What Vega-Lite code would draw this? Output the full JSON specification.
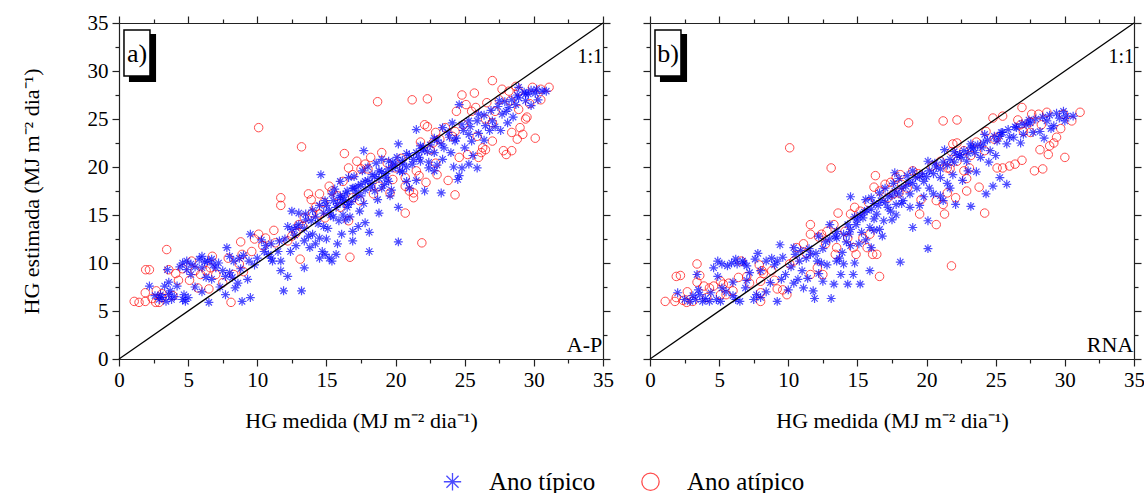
{
"$schema":"https://vega.github.io/schema/vega-lite/v6.json",
"padding":{"left":20,"top":12,"right":5,"bottom":0},
"config":{"font":"Liberation Serif, Times New Roman, serif","view":{"stroke":null},
"axis":{"domainColor":"#222","tickColor":"#222","labelColor":"black","titleColor":"black","labelFont":"Liberation Serif, Times New Roman, serif","titleFont":"Liberation Serif, Times New Roman, serif","labelFontSize":21,"titleFontSize":22,"titleFontWeight":"normal","grid":false,"domainWidth":1.2,"tickWidth":1.2,"labelFlush":false,"labelOverlap":false},
"legend":{"labelFont":"Liberation Serif, Times New Roman, serif","labelFontSize":25,"labelColor":"black"},
"text":{"font":"Liberation Serif, Times New Roman, serif"}},
"datasets":{
"one":[{}],
"aT":[{"x":2.2,"y":7.6},{"x":2.9,"y":6.2},{"x":3.1,"y":6.4},{"x":3.4,"y":6.0},{"x":3.0,"y":6.7},{"x":3.5,"y":9.3},{"x":3.6,"y":8.0},{"x":3.7,"y":7.1},{"x":3.6,"y":6.7},{"x":4.6,"y":10.0},{"x":4.9,"y":10.2},{"x":5.2,"y":9.9},{"x":4.9,"y":9.3},{"x":4.6,"y":6.2},{"x":4.8,"y":6.0},{"x":4.7,"y":6.7},{"x":5.0,"y":6.4},{"x":6.0,"y":10.7},{"x":6.4,"y":10.2},{"x":6.7,"y":10.4},{"x":7.2,"y":10.0},{"x":7.0,"y":9.5},{"x":6.3,"y":8.5},{"x":6.7,"y":8.3},{"x":6.5,"y":5.9},{"x":7.8,"y":11.6},{"x":8.0,"y":10.7},{"x":8.3,"y":10.2},{"x":8.7,"y":10.5},{"x":7.7,"y":6.7},{"x":8.4,"y":7.4},{"x":8.6,"y":7.9},{"x":8.9,"y":6.0},{"x":9.5,"y":6.4},{"x":9.5,"y":13.0},{"x":9.3,"y":8.3},{"x":10.6,"y":11.8},{"x":11.0,"y":10.5},{"x":11.1,"y":10.2},{"x":11.6,"y":12.3},{"x":11.7,"y":10.2},{"x":11.7,"y":9.2},{"x":12.2,"y":8.6},{"x":11.9,"y":7.1},{"x":13.2,"y":7.1},{"x":12.5,"y":15.4},{"x":12.8,"y":13.7},{"x":13.0,"y":15.2},{"x":13.4,"y":12.3},{"x":13.5,"y":15.1},{"x":13.9,"y":14.4},{"x":14.0,"y":13.0},{"x":13.4,"y":9.5},{"x":14.5,"y":12.6},{"x":14.7,"y":11.2},{"x":14.9,"y":10.9},{"x":15.2,"y":10.5},{"x":15.4,"y":10.2},{"x":15.7,"y":10.9},{"x":14.5,"y":10.5},{"x":14.6,"y":19.2},{"x":14.9,"y":16.5},{"x":15.4,"y":17.2},{"x":15.7,"y":15.8},{"x":16.0,"y":16.8},{"x":16.4,"y":17.2},{"x":16.6,"y":16.1},{"x":16.9,"y":17.8},{"x":17.1,"y":16.8},{"x":17.4,"y":15.4},{"x":15.9,"y":14.4},{"x":16.1,"y":13.0},{"x":16.9,"y":13.3},{"x":16.9,"y":12.3},{"x":17.8,"y":14.2},{"x":17.7,"y":21.7},{"x":18.1,"y":13.2},{"x":18.1,"y":11.2},{"x":17.8,"y":18.5},{"x":18.3,"y":19.2},{"x":18.8,"y":19.6},{"x":19.0,"y":17.8},{"x":19.3,"y":18.9},{"x":19.5,"y":20.6},{"x":19.8,"y":19.9},{"x":20.1,"y":21.0},{"x":20.5,"y":20.3},{"x":20.2,"y":22.4},{"x":18.8,"y":15.2},{"x":20.2,"y":15.8},{"x":20.2,"y":12.2},{"x":21.0,"y":17.8},{"x":21.2,"y":20.3},{"x":21.5,"y":23.9},{"x":21.7,"y":21.0},{"x":21.9,"y":21.7},{"x":22.4,"y":19.9},{"x":22.8,"y":19.6},{"x":22.1,"y":17.5},{"x":23.3,"y":17.3},{"x":23.4,"y":24.1},{"x":23.9,"y":23.1},{"x":24.1,"y":24.6},{"x":24.3,"y":22.7},{"x":24.8,"y":24.4},{"x":25.3,"y":23.4},{"x":25.5,"y":22.7},{"x":24.5,"y":18.7},{"x":24.6,"y":19.1},{"x":24.8,"y":19.9},{"x":25.3,"y":20.3},{"x":25.9,"y":19.9},{"x":24.6,"y":26.5},{"x":25.3,"y":24.8},{"x":26.0,"y":25.5},{"x":26.5,"y":24.3},{"x":27.0,"y":24.8},{"x":27.5,"y":26.9},{"x":28.0,"y":25.8},{"x":28.2,"y":26.2},{"x":28.7,"y":26.5},{"x":28.9,"y":27.2},{"x":29.4,"y":26.9},{"x":29.6,"y":27.6},{"x":30.1,"y":27.7},{"x":30.6,"y":27.9},{"x":30.9,"y":27.9},{"x":28.1,"y":24.6},{"x":27.7,"y":25.5},{"x":28.9,"y":28.3},{"x":29.4,"y":27.6},{"x":15,"y":16},{"x":15.5,"y":16.5},{"x":16,"y":17},{"x":16.5,"y":17.5},{"x":17,"y":17.8},{"x":17.5,"y":18.2},{"x":18,"y":18.6},{"x":18.5,"y":19},{"x":19,"y":19.5},{"x":19.5,"y":19.8},{"x":20,"y":20.2},{"x":20.5,"y":20.7},{"x":21,"y":21.2},{"x":21.5,"y":21.5},{"x":22,"y":22},{"x":22.5,"y":22.3},{"x":23,"y":22.8},{"x":14,"y":15.5},{"x":14.5,"y":16},{"x":13.5,"y":14.5},{"x":13,"y":14},{"x":12.5,"y":13.5},{"x":16,"y":18.5},{"x":17,"y":19},{"x":18,"y":20},{"x":19,"y":20.8},{"x":17.5,"y":17},{"x":18.5,"y":17.5},{"x":19.5,"y":18.5},{"x":20.5,"y":19.5},{"x":16.5,"y":15.8},{"x":15.5,"y":14.8},{"x":15.2,"y":15.5},{"x":16.2,"y":16.3},{"x":17.2,"y":17.3},{"x":18.2,"y":17.9},{"x":19.2,"y":18.2},{"x":20.8,"y":20.0},{"x":21.8,"y":20.6},{"x":22.8,"y":21.5},{"x":23.5,"y":22.0},{"x":24.0,"y":21.5},{"x":25.0,"y":22.0},{"x":26.0,"y":23.5},{"x":26.8,"y":23.8},{"x":27.2,"y":24.2},{"x":28.5,"y":25.2},{"x":29.8,"y":26.4},{"x":30.3,"y":27.0},{"x":12.0,"y":12.5},{"x":11.0,"y":12.0},{"x":10.5,"y":11.2},{"x":10.0,"y":10.5},{"x":9.0,"y":10.8},{"x":9.8,"y":9.8},{"x":8.0,"y":9.0},{"x":7.5,"y":9.2},{"x":6.0,"y":9.5},{"x":5.5,"y":9.6},{"x":4.2,"y":7.6},{"x":4.0,"y":6.5},{"x":5.5,"y":7.5},{"x":6.0,"y":7.0},{"x":7.3,"y":7.5},{"x":8.2,"y":8.5},{"x":12.8,"y":11.8},{"x":13.8,"y":11.6},{"x":14.2,"y":12.0},{"x":15.0,"y":12.5},{"x":15.8,"y":12.0},{"x":14.8,"y":13.8},{"x":16.4,"y":14.5},{"x":17.3,"y":13.8},{"x":19.6,"y":17.0},{"x":20.8,"y":18.5},{"x":22.4,"y":20.5},{"x":23.4,"y":20.8},{"x":24.2,"y":20.0},{"x":25.6,"y":21.2},{"x":26.4,"y":22.8},{"x":27.6,"y":23.8},{"x":14.2,"y":14.8},{"x":14.8,"y":15.2},{"x":15.3,"y":15.0},{"x":15.8,"y":16.2},{"x":16.3,"y":16.6},{"x":16.8,"y":16.4},{"x":17.3,"y":18.0},{"x":17.8,"y":17.6},{"x":18.3,"y":18.3},{"x":18.8,"y":18.8},{"x":19.3,"y":19.3},{"x":19.8,"y":20.5},{"x":20.3,"y":19.6},{"x":20.8,"y":21.4},{"x":21.3,"y":20.8},{"x":21.8,"y":22.2},{"x":22.3,"y":21.6},{"x":22.8,"y":23.0},{"x":23.3,"y":22.4},{"x":23.8,"y":23.6},{"x":24.4,"y":23.0},{"x":24.9,"y":23.8},{"x":25.4,"y":24.2},{"x":25.9,"y":24.8},{"x":26.4,"y":25.4},{"x":26.9,"y":25.9},{"x":27.4,"y":26.3},{"x":27.9,"y":26.8},{"x":28.4,"y":27.0},{"x":28.8,"y":27.5},{"x":29.3,"y":27.8},{"x":29.8,"y":28.0},{"x":30.2,"y":28.1},{"x":15.6,"y":17.7},{"x":16.6,"y":18.9},{"x":17.6,"y":19.6},{"x":18.6,"y":20.4},{"x":13.4,"y":13.6},{"x":12.7,"y":12.9},{"x":12.2,"y":13.8},{"x":11.5,"y":11.2},{"x":10.8,"y":10.9},{"x":10.3,"y":12.4},{"x":9.4,"y":10.2},{"x":8.8,"y":9.4},{"x":7.7,"y":8.6},{"x":6.8,"y":9.8},{"x":6.2,"y":10.1},{"x":5.8,"y":10.4},{"x":5.2,"y":8.8},{"x":4.4,"y":9.6},{"x":3.8,"y":6.2},{"x":3.3,"y":7.6},{"x":2.6,"y":6.6},{"x":16.2,"y":15.0},{"x":17.7,"y":16.2},{"x":18.7,"y":16.6},{"x":19.7,"y":17.6},{"x":21.5,"y":18.6},{"x":23.0,"y":20.2},{"x":14.4,"y":14.1},{"x":15.1,"y":13.6},{"x":16.7,"y":14.8},{"x":13.7,"y":12.8},{"x":12.4,"y":11.2}],
"aA":[{"x":1.1,"y":6.0},{"x":1.45,"y":5.9},{"x":1.9,"y":6.0},{"x":1.93,"y":9.3},{"x":2.2,"y":9.3},{"x":3.45,"y":11.4},{"x":3.6,"y":9.3},{"x":2.4,"y":6.3},{"x":2.65,"y":5.9},{"x":2.9,"y":5.9},{"x":3.1,"y":6.4},{"x":1.9,"y":6.9},{"x":3.1,"y":6.8},{"x":4.3,"y":8.2},{"x":5.1,"y":8.2},{"x":5.25,"y":10.2},{"x":5.5,"y":9.2},{"x":5.9,"y":8.8},{"x":6.3,"y":9.2},{"x":6.6,"y":9.5},{"x":5.7,"y":7.4},{"x":6.5,"y":7.3},{"x":6.75,"y":10.7},{"x":7.5,"y":7.95},{"x":8.1,"y":5.9},{"x":8.3,"y":8.8},{"x":8.7,"y":9.9},{"x":8.9,"y":10.9},{"x":8.8,"y":12.2},{"x":9.8,"y":12.5},{"x":10.1,"y":13.0},{"x":10.1,"y":24.1},{"x":9.6,"y":11.2},{"x":10.4,"y":11.8},{"x":11.2,"y":13.4},{"x":11.7,"y":16.8},{"x":11.7,"y":16.0},{"x":13.2,"y":22.1},{"x":13.1,"y":10.4},{"x":12.5,"y":12.8},{"x":13.0,"y":14.0},{"x":13.4,"y":14.7},{"x":13.7,"y":17.2},{"x":13.9,"y":16.6},{"x":14.2,"y":15.8},{"x":14.5,"y":17.2},{"x":14.0,"y":15.2},{"x":14.5,"y":15.1},{"x":14.9,"y":14.7},{"x":15.2,"y":18.0},{"x":15.4,"y":17.5},{"x":16.3,"y":21.4},{"x":16.7,"y":10.6},{"x":16.6,"y":19.9},{"x":16.9,"y":19.2},{"x":17.2,"y":20.6},{"x":17.5,"y":19.8},{"x":18.0,"y":19.8},{"x":16.9,"y":16.8},{"x":17.4,"y":16.5},{"x":16.0,"y":15.8},{"x":16.6,"y":14.4},{"x":18.7,"y":26.8},{"x":19.0,"y":21.5},{"x":18.4,"y":17.2},{"x":18.8,"y":18.0},{"x":20.7,"y":15.2},{"x":21.2,"y":27.0},{"x":22.3,"y":27.1},{"x":21.9,"y":12.1},{"x":22.1,"y":24.4},{"x":22.3,"y":24.2},{"x":21.5,"y":19.6},{"x":21.7,"y":19.1},{"x":21.3,"y":17.3},{"x":21.3,"y":16.8},{"x":22.2,"y":18.4},{"x":23.0,"y":19.2},{"x":20.7,"y":18.9},{"x":20.0,"y":19.9},{"x":19.8,"y":18.7},{"x":24.3,"y":17.1},{"x":24.8,"y":27.5},{"x":25.7,"y":27.7},{"x":24.4,"y":25.8},{"x":25.1,"y":26.5},{"x":25.5,"y":25.8},{"x":25.8,"y":26.2},{"x":24.6,"y":21.0},{"x":25.2,"y":21.3},{"x":26.0,"y":21.0},{"x":26.2,"y":21.5},{"x":26.5,"y":21.8},{"x":27.0,"y":22.7},{"x":24.1,"y":23.2},{"x":24.3,"y":23.7},{"x":27.0,"y":29.0},{"x":27.7,"y":28.1},{"x":28.2,"y":27.9},{"x":28.7,"y":28.4},{"x":28.9,"y":27.9},{"x":29.9,"y":28.3},{"x":30.5,"y":28.1},{"x":31.1,"y":28.3},{"x":27.8,"y":21.7},{"x":28.0,"y":21.3},{"x":28.4,"y":21.7},{"x":28.4,"y":23.6},{"x":28.8,"y":22.9},{"x":29.0,"y":24.1},{"x":29.2,"y":23.4},{"x":29.4,"y":25.0},{"x":29.5,"y":25.2},{"x":28.9,"y":26.0},{"x":30.1,"y":23.0},{"x":30.5,"y":27.0},{"x":26.5,"y":25.0},{"x":27.0,"y":24.6},{"x":27.2,"y":25.8},{"x":25.9,"y":23.2},{"x":26.3,"y":22.0},{"x":22.9,"y":23.6},{"x":22.7,"y":22.5},{"x":22.5,"y":21.8},{"x":20.7,"y":18.0},{"x":21.0,"y":17.5},{"x":12.2,"y":12.3},{"x":12.8,"y":13.1},{"x":13.3,"y":13.8},{"x":14.8,"y":16.3},{"x":15.8,"y":17.0},{"x":16.2,"y":18.5},{"x":17.8,"y":20.3},{"x":18.2,"y":21.0},{"x":19.4,"y":20.4},{"x":20.4,"y":20.9},{"x":21.8,"y":22.6},{"x":23.2,"y":22.9},{"x":23.6,"y":24.1},{"x":24.9,"y":24.4},{"x":26.6,"y":26.7},{"x":27.5,"y":27.0},{"x":28.3,"y":26.9},{"x":29.7,"y":26.6},{"x":7.0,"y":8.8},{"x":7.9,"y":10.5},{"x":4.6,"y":9.4},{"x":4.1,"y":8.9},{"x":2.7,"y":7.1},{"x":3.9,"y":6.6},{"x":9.0,"y":9.1},{"x":10.6,"y":12.6},{"x":11.3,"y":12.1},{"x":19.6,"y":17.3},{"x":22.9,"y":20.4},{"x":23.8,"y":18.6}],
"bT":[{"x":2.0,"y":6.9},{"x":2.9,"y":6.0},{"x":3.3,"y":6.2},{"x":3.6,"y":6.7},{"x":3.5,"y":7.2},{"x":3.4,"y":8.8},{"x":4.3,"y":6.0},{"x":4.8,"y":6.2},{"x":5.1,"y":6.0},{"x":4.9,"y":8.6},{"x":4.6,"y":9.5},{"x":4.9,"y":10.2},{"x":5.2,"y":9.9},{"x":5.9,"y":10.0},{"x":6.3,"y":9.9},{"x":6.7,"y":10.2},{"x":7.0,"y":9.7},{"x":7.2,"y":9.0},{"x":6.9,"y":7.4},{"x":6.5,"y":6.0},{"x":7.7,"y":6.7},{"x":7.5,"y":6.2},{"x":7.8,"y":11.0},{"x":8.4,"y":10.2},{"x":9.2,"y":10.2},{"x":9.4,"y":11.9},{"x":9.5,"y":8.3},{"x":8.7,"y":7.95},{"x":9.2,"y":6.0},{"x":10.5,"y":10.9},{"x":10.8,"y":10.2},{"x":10.7,"y":8.3},{"x":11.1,"y":7.4},{"x":11.8,"y":7.1},{"x":11.9,"y":6.3},{"x":13.1,"y":6.3},{"x":11.3,"y":10.5},{"x":12.1,"y":10.2},{"x":12.5,"y":8.1},{"x":13.3,"y":7.8},{"x":13.5,"y":10.2},{"x":14.0,"y":9.9},{"x":14.3,"y":7.8},{"x":14.7,"y":8.8},{"x":15.2,"y":7.8},{"x":15.9,"y":9.2},{"x":13.0,"y":14.0},{"x":13.5,"y":12.6},{"x":13.9,"y":11.1},{"x":14.5,"y":11.8},{"x":14.5,"y":16.9},{"x":14.9,"y":14.0},{"x":15.4,"y":14.7},{"x":15.9,"y":13.7},{"x":16.4,"y":15.1},{"x":16.9,"y":14.4},{"x":17.4,"y":15.4},{"x":17.8,"y":16.1},{"x":18.3,"y":16.5},{"x":18.8,"y":17.2},{"x":19.0,"y":13.7},{"x":17.7,"y":19.4},{"x":18.1,"y":10.1},{"x":20.1,"y":11.5},{"x":19.3,"y":17.8},{"x":19.8,"y":18.5},{"x":20.2,"y":17.8},{"x":20.5,"y":17.2},{"x":21.0,"y":18.9},{"x":21.2,"y":16.5},{"x":21.7,"y":17.8},{"x":21.9,"y":19.2},{"x":20.1,"y":20.6},{"x":21.3,"y":21.8},{"x":20.1,"y":14.4},{"x":22.1,"y":16.1},{"x":23.2,"y":15.9},{"x":22.4,"y":21.3},{"x":22.9,"y":20.6},{"x":23.4,"y":22.0},{"x":23.9,"y":21.0},{"x":24.1,"y":22.5},{"x":24.6,"y":21.7},{"x":25.1,"y":22.7},{"x":25.3,"y":23.2},{"x":25.8,"y":22.4},{"x":26.3,"y":23.1},{"x":24.3,"y":17.2},{"x":24.8,"y":18.0},{"x":25.3,"y":18.9},{"x":25.8,"y":18.2},{"x":26.5,"y":24.1},{"x":27.2,"y":24.4},{"x":27.7,"y":23.6},{"x":28.2,"y":23.7},{"x":28.7,"y":24.8},{"x":29.2,"y":24.3},{"x":29.6,"y":25.1},{"x":30.1,"y":25.3},{"x":30.6,"y":25.3},{"x":27.5,"y":24.6},{"x":25.5,"y":23.6},{"x":26.0,"y":23.1},{"x":15,"y":14.5},{"x":15.5,"y":15.3},{"x":16,"y":15.6},{"x":16.5,"y":16},{"x":17,"y":16.3},{"x":17.5,"y":17},{"x":18,"y":17.2},{"x":18.5,"y":18},{"x":19,"y":18.3},{"x":19.5,"y":19},{"x":20,"y":19},{"x":20.5,"y":19.3},{"x":21,"y":19.8},{"x":21.5,"y":20.2},{"x":22,"y":20.5},{"x":22.5,"y":21},{"x":23,"y":21.4},{"x":23.5,"y":21.5},{"x":24,"y":22},{"x":16,"y":16.8},{"x":17,"y":17.8},{"x":18,"y":18.8},{"x":19,"y":19.6},{"x":16.2,"y":14.6},{"x":17.2,"y":15.8},{"x":18.2,"y":16.2},{"x":14.5,"y":13.5},{"x":14,"y":13},{"x":13.5,"y":13.3},{"x":12.5,"y":11.5},{"x":13,"y":12.5},{"x":12,"y":11},{"x":11.5,"y":11.5},{"x":15.3,"y":13.2},{"x":16.6,"y":13.5},{"x":14.2,"y":12.2},{"x":15.6,"y":12.4},{"x":12.8,"y":9.8},{"x":13.8,"y":8.8},{"x":11.0,"y":9.2},{"x":10.2,"y":9.6},{"x":9.0,"y":9.8},{"x":8.0,"y":9.2},{"x":6.0,"y":8.0},{"x":5.5,"y":7.0},{"x":4.0,"y":6.3},{"x":6.0,"y":6.6},{"x":7.0,"y":8.2},{"x":8.4,"y":7.0},{"x":10.0,"y":7.2},{"x":12.2,"y":8.9},{"x":14.8,"y":10.0},{"x":16.0,"y":11.6},{"x":17.5,"y":14.5},{"x":19.5,"y":16.0},{"x":21.0,"y":17.0},{"x":22.6,"y":18.6},{"x":23.6,"y":19.5},{"x":24.5,"y":20.5},{"x":25.0,"y":21.2},{"x":26.8,"y":22.5},{"x":27.0,"y":23.4},{"x":28.5,"y":23.0},{"x":29.0,"y":24.0},{"x":30.0,"y":24.8},{"x":24.2,"y":23.4},{"x":23.2,"y":22.4},{"x":22.0,"y":21.6},{"x":20.6,"y":20.4},{"x":14.3,"y":14.0},{"x":14.8,"y":14.8},{"x":15.2,"y":15.0},{"x":15.7,"y":15.5},{"x":16.2,"y":16.2},{"x":16.7,"y":16.5},{"x":17.2,"y":16.9},{"x":17.7,"y":17.5},{"x":18.2,"y":17.8},{"x":18.7,"y":18.4},{"x":19.2,"y":18.9},{"x":19.7,"y":19.3},{"x":20.2,"y":19.6},{"x":20.7,"y":20.0},{"x":21.2,"y":20.5},{"x":21.7,"y":20.8},{"x":22.2,"y":21.2},{"x":22.7,"y":21.7},{"x":23.2,"y":22.0},{"x":23.7,"y":22.3},{"x":24.4,"y":22.8},{"x":24.9,"y":23.2},{"x":25.4,"y":23.6},{"x":25.9,"y":23.9},{"x":26.4,"y":24.2},{"x":26.9,"y":24.5},{"x":27.4,"y":24.9},{"x":27.9,"y":25.0},{"x":28.4,"y":25.2},{"x":28.9,"y":25.4},{"x":29.4,"y":25.6},{"x":29.9,"y":25.8},{"x":15.6,"y":16.6},{"x":16.6,"y":17.3},{"x":17.6,"y":18.3},{"x":18.6,"y":19.1},{"x":13.4,"y":12.8},{"x":12.7,"y":12.2},{"x":12.2,"y":12.8},{"x":11.6,"y":10.9},{"x":10.9,"y":11.3},{"x":10.4,"y":11.6},{"x":9.6,"y":10.6},{"x":8.8,"y":10.5},{"x":7.6,"y":10.4},{"x":6.8,"y":10.0},{"x":6.2,"y":10.4},{"x":5.6,"y":9.7},{"x":5.2,"y":7.4},{"x":4.4,"y":6.9},{"x":3.8,"y":6.0},{"x":3.1,"y":6.6},{"x":2.5,"y":6.2},{"x":16.2,"y":13.4},{"x":17.8,"y":15.0},{"x":18.8,"y":15.8},{"x":19.8,"y":16.9},{"x":21.5,"y":18.3},{"x":23.0,"y":19.6},{"x":14.4,"y":13.0},{"x":15.1,"y":12.0},{"x":16.8,"y":12.8},{"x":13.7,"y":10.5},{"x":12.4,"y":10.0},{"x":11.4,"y":8.4},{"x":10.4,"y":7.9},{"x":8.0,"y":6.4},{"x":6.2,"y":6.2},{"x":9.8,"y":8.8}],
"bA":[{"x":1.1,"y":6.0},{"x":1.8,"y":6.0},{"x":1.9,"y":6.4},{"x":2.4,"y":6.1},{"x":2.65,"y":5.9},{"x":3.1,"y":6.0},{"x":1.9,"y":8.6},{"x":2.2,"y":8.7},{"x":3.4,"y":9.9},{"x":3.6,"y":8.7},{"x":3.4,"y":8.0},{"x":4.3,"y":7.4},{"x":5.1,"y":8.1},{"x":5.3,"y":7.8},{"x":5.7,"y":7.9},{"x":5.1,"y":6.7},{"x":5.5,"y":6.7},{"x":6.0,"y":7.1},{"x":6.4,"y":8.5},{"x":6.6,"y":10.2},{"x":7.2,"y":7.9},{"x":8.0,"y":8.1},{"x":8.1,"y":9.2},{"x":8.2,"y":8.9},{"x":8.8,"y":9.2},{"x":8.0,"y":6.9},{"x":8.0,"y":6.0},{"x":9.2,"y":7.3},{"x":9.6,"y":7.2},{"x":9.9,"y":6.7},{"x":10.1,"y":22.0},{"x":10.1,"y":9.9},{"x":10.4,"y":10.2},{"x":11.1,"y":12.0},{"x":11.6,"y":14.0},{"x":11.6,"y":13.0},{"x":12.4,"y":13.0},{"x":12.7,"y":12.0},{"x":12.1,"y":9.5},{"x":12.5,"y":8.8},{"x":11.6,"y":8.8},{"x":13.1,"y":19.9},{"x":13.6,"y":15.2},{"x":14.5,"y":15.1},{"x":14.1,"y":13.3},{"x":14.3,"y":12.6},{"x":15.2,"y":15.4},{"x":14.7,"y":11.6},{"x":14.9,"y":10.9},{"x":13.4,"y":10.9},{"x":13.5,"y":11.6},{"x":16.1,"y":10.9},{"x":16.4,"y":10.9},{"x":16.6,"y":8.6},{"x":16.3,"y":19.1},{"x":16.6,"y":17.5},{"x":17.0,"y":18.2},{"x":17.4,"y":18.4},{"x":17.6,"y":17.2},{"x":18.0,"y":17.3},{"x":17.2,"y":16.8},{"x":18.1,"y":19.2},{"x":19.0,"y":19.6},{"x":18.6,"y":17.8},{"x":18.7,"y":24.6},{"x":19.5,"y":15.1},{"x":20.7,"y":14.0},{"x":21.3,"y":15.1},{"x":21.2,"y":24.8},{"x":22.2,"y":24.9},{"x":21.8,"y":9.7},{"x":21.0,"y":20.6},{"x":21.5,"y":19.9},{"x":21.7,"y":19.8},{"x":21.9,"y":22.4},{"x":22.2,"y":22.5},{"x":21.5,"y":17.3},{"x":22.1,"y":16.8},{"x":22.9,"y":17.5},{"x":22.7,"y":21.7},{"x":24.2,"y":15.2},{"x":24.8,"y":25.1},{"x":25.5,"y":25.3},{"x":24.3,"y":23.7},{"x":25.1,"y":23.1},{"x":24.2,"y":21.7},{"x":25.1,"y":19.9},{"x":25.5,"y":19.9},{"x":26.0,"y":20.1},{"x":26.4,"y":20.3},{"x":26.9,"y":20.7},{"x":26.9,"y":26.2},{"x":27.6,"y":25.5},{"x":28.1,"y":25.5},{"x":28.7,"y":25.7},{"x":29.9,"y":25.5},{"x":30.5,"y":24.8},{"x":31.1,"y":25.7},{"x":27.8,"y":19.6},{"x":28.4,"y":19.8},{"x":28.2,"y":21.8},{"x":28.8,"y":21.3},{"x":28.9,"y":22.2},{"x":29.2,"y":22.5},{"x":29.4,"y":23.1},{"x":30.0,"y":21.0},{"x":26.8,"y":24.4},{"x":27.0,"y":23.7},{"x":27.5,"y":23.6},{"x":22.2,"y":20.6},{"x":22.7,"y":19.6},{"x":23.1,"y":19.9},{"x":20.7,"y":16.5},{"x":21.2,"y":16.1},{"x":15.4,"y":12.6},{"x":15.9,"y":13.0},{"x":15.7,"y":11.6},{"x":12.2,"y":12.7},{"x":12.8,"y":13.3},{"x":13.3,"y":14.0},{"x":14.8,"y":15.8},{"x":15.8,"y":16.3},{"x":16.2,"y":17.9},{"x":17.8,"y":18.9},{"x":18.2,"y":18.2},{"x":19.4,"y":19.3},{"x":20.4,"y":20.1},{"x":21.8,"y":21.6},{"x":23.2,"y":21.2},{"x":23.6,"y":22.6},{"x":24.9,"y":22.9},{"x":26.6,"y":24.9},{"x":27.5,"y":24.7},{"x":28.3,"y":24.4},{"x":29.7,"y":24.0},{"x":7.0,"y":8.6},{"x":7.9,"y":9.8},{"x":4.6,"y":7.6},{"x":4.1,"y":6.4},{"x":2.7,"y":7.0},{"x":3.9,"y":7.6},{"x":9.0,"y":8.2},{"x":10.6,"y":11.6},{"x":11.3,"y":11.0},{"x":19.6,"y":16.6},{"x":22.9,"y":18.8},{"x":23.8,"y":17.9}]
},
"hconcat":[
{"width":484,"height":336,
"layer":[
{"data":{"name":"one"},"mark":{"type":"rect","color":"black"},"encoding":{"x":{"datum":0.72,"type":"quantitative","scale":{"domain":[0,35],"nice":false},"axis":null},"x2":{"datum":2.68},"y":{"datum":33.85,"type":"quantitative","scale":{"domain":[0,35],"nice":false},"axis":null},"y2":{"datum":28.85}}},
{"data":{"name":"one"},"mark":{"type":"rect","fill":"white","stroke":"black","strokeWidth":1.5},"encoding":{"x":{"datum":0.36,"type":"quantitative","axis":null},"x2":{"datum":2.24},"y":{"datum":34.27,"type":"quantitative","axis":null},"y2":{"datum":29.48}}},
{"data":{"name":"one"},"mark":{"type":"text","text":"a)","fontSize":26,"color":"black","align":"center","baseline":"middle"},"encoding":{"x":{"datum":1.3,"type":"quantitative","axis":null},"y":{"datum":31.8,"type":"quantitative","axis":null}}},
{"data":{"name":"one"},"mark":{"type":"text","text":"1:1","fontSize":20,"color":"black","align":"right","baseline":"alphabetic"},"encoding":{"x":{"datum":35,"type":"quantitative","axis":null},"y":{"datum":30.8,"type":"quantitative","axis":null}}},
{"data":{"name":"one"},"mark":{"type":"text","text":"A-P","fontSize":22,"color":"black","align":"right","baseline":"alphabetic"},"encoding":{"x":{"datum":34.95,"type":"quantitative","axis":null},"y":{"datum":0.7,"type":"quantitative","axis":null}}},
{"data":{"name":"aA"},"mark":{"type":"point","filled":false,"size":72,"strokeWidth":1},
"encoding":{"x":{"field":"x","type":"quantitative","scale":{"domain":[0,35],"nice":false},"axis":{"orient":"bottom","values":[0,2.5,5,7.5,10,12.5,15,17.5,20,22.5,25,27.5,30,32.5,35],"labelExpr":"datum.value % 5 === 0 ? datum.label : ''","tickSize":{"condition":{"test":"datum.value % 5 === 0","value":7},"value":4},"labelPadding":3,"titlePadding":20,"title":"HG medida (MJ m⁻² dia⁻¹)"}},
"y":{"field":"y","type":"quantitative","scale":{"domain":[0,35],"nice":false},"axis":{"orient":"left","values":[0,2.5,5,7.5,10,12.5,15,17.5,20,22.5,25,27.5,30,32.5,35],"labelExpr":"datum.value % 5 === 0 ? datum.label : ''","tickSize":{"condition":{"test":"datum.value % 5 === 0","value":7},"value":4},"labelPadding":4,"titlePadding":44,"title":"HG estimada (MJ m⁻² dia⁻¹)"}},
"color":{"datum":"Ano atípico","type":"nominal","scale":{"domain":["Ano típico","Ano atípico"],"range":["#0000ff","#ff0000"]},"legend":{"orient":"none","direction":"horizontal","legendX":321,"legendY":446,"title":null,"symbolSize":300,"symbolStrokeWidth":1.3,"labelOffset":24,"columnPadding":42,"padding":0}},
"shape":{"datum":"Ano atípico","type":"nominal","scale":{"domain":["Ano típico","Ano atípico"],"range":["M0,-1L0,1M-1,0L1,0M-0.7,-0.7L0.7,0.7M-0.7,0.7L0.7,-0.7","circle"]}}}},
{"data":{"name":"aT"},"mark":{"type":"point","filled":false,"size":80,"strokeWidth":1.2},
"encoding":{"x":{"field":"x","type":"quantitative","axis":null},"y":{"field":"y","type":"quantitative","axis":null},"color":{"datum":"Ano típico","type":"nominal"},"shape":{"datum":"Ano típico","type":"nominal"}}},
{"data":{"name":"one"},"mark":{"type":"rule","color":"black","strokeWidth":1.3},"encoding":{"x":{"datum":0,"type":"quantitative","axis":{"orient":"top","values":[0,2.5,5,7.5,10,12.5,15,17.5,20,22.5,25,27.5,30,32.5,35],"labels":false,"title":null,"tickSize":{"condition":{"test":"datum.value % 5 === 0","value":7},"value":4}}},"x2":{"datum":35},"y":{"datum":0,"type":"quantitative","axis":{"orient":"right","values":[0,2.5,5,7.5,10,12.5,15,17.5,20,22.5,25,27.5,30,32.5,35],"labels":false,"title":null,"tickSize":{"condition":{"test":"datum.value % 5 === 0","value":7},"value":4}}},"y2":{"datum":35}}}
],
"resolve":{"axis":{"x":"independent","y":"independent"}}},
{"width":484,"height":336,
"layer":[
{"data":{"name":"one"},"mark":{"type":"rect","color":"black"},"encoding":{"x":{"datum":0.72,"type":"quantitative","scale":{"domain":[0,35],"nice":false},"axis":null},"x2":{"datum":2.68},"y":{"datum":33.85,"type":"quantitative","scale":{"domain":[0,35],"nice":false},"axis":null},"y2":{"datum":28.85}}},
{"data":{"name":"one"},"mark":{"type":"rect","fill":"white","stroke":"black","strokeWidth":1.5},"encoding":{"x":{"datum":0.36,"type":"quantitative","axis":null},"x2":{"datum":2.24},"y":{"datum":34.27,"type":"quantitative","axis":null},"y2":{"datum":29.48}}},
{"data":{"name":"one"},"mark":{"type":"text","text":"b)","fontSize":26,"color":"black","align":"center","baseline":"middle"},"encoding":{"x":{"datum":1.3,"type":"quantitative","axis":null},"y":{"datum":31.8,"type":"quantitative","axis":null}}},
{"data":{"name":"one"},"mark":{"type":"text","text":"1:1","fontSize":20,"color":"black","align":"right","baseline":"alphabetic"},"encoding":{"x":{"datum":35,"type":"quantitative","axis":null},"y":{"datum":30.8,"type":"quantitative","axis":null}}},
{"data":{"name":"one"},"mark":{"type":"text","text":"RNA","fontSize":22,"color":"black","align":"right","baseline":"alphabetic"},"encoding":{"x":{"datum":34.95,"type":"quantitative","axis":null},"y":{"datum":0.7,"type":"quantitative","axis":null}}},
{"data":{"name":"bA"},"mark":{"type":"point","filled":false,"size":72,"strokeWidth":1},
"encoding":{"x":{"field":"x","type":"quantitative","scale":{"domain":[0,35],"nice":false},"axis":{"orient":"bottom","values":[0,2.5,5,7.5,10,12.5,15,17.5,20,22.5,25,27.5,30,32.5,35],"labelExpr":"datum.value % 5 === 0 ? datum.label : ''","tickSize":{"condition":{"test":"datum.value % 5 === 0","value":7},"value":4},"labelPadding":3,"titlePadding":20,"title":"HG medida (MJ m⁻² dia⁻¹)"}},
"y":{"field":"y","type":"quantitative","scale":{"domain":[0,35],"nice":false},"axis":{"orient":"left","values":[0,2.5,5,7.5,10,12.5,15,17.5,20,22.5,25,27.5,30,32.5,35],"labels":false,"title":null,"tickSize":{"condition":{"test":"datum.value % 5 === 0","value":7},"value":4}}},
"color":{"datum":"Ano atípico","type":"nominal"},
"shape":{"datum":"Ano atípico","type":"nominal"}}},
{"data":{"name":"bT"},"mark":{"type":"point","filled":false,"size":80,"strokeWidth":1.2},
"encoding":{"x":{"field":"x","type":"quantitative","axis":null},"y":{"field":"y","type":"quantitative","axis":null},"color":{"datum":"Ano típico","type":"nominal"},"shape":{"datum":"Ano típico","type":"nominal"}}},
{"data":{"name":"one"},"mark":{"type":"rule","color":"black","strokeWidth":1.3},"encoding":{"x":{"datum":0,"type":"quantitative","axis":{"orient":"top","values":[0,2.5,5,7.5,10,12.5,15,17.5,20,22.5,25,27.5,30,32.5,35],"labels":false,"title":null,"tickSize":{"condition":{"test":"datum.value % 5 === 0","value":7},"value":4}}},"x2":{"datum":35},"y":{"datum":0,"type":"quantitative","axis":{"orient":"right","values":[0,2.5,5,7.5,10,12.5,15,17.5,20,22.5,25,27.5,30,32.5,35],"labels":false,"title":null,"tickSize":{"condition":{"test":"datum.value % 5 === 0","value":7},"value":4}}},"y2":{"datum":35}}}
],
"resolve":{"axis":{"x":"independent","y":"independent"}}}
],
"spacing":28,
"resolve":{"scale":{"color":"shared","shape":"shared"}}
}
